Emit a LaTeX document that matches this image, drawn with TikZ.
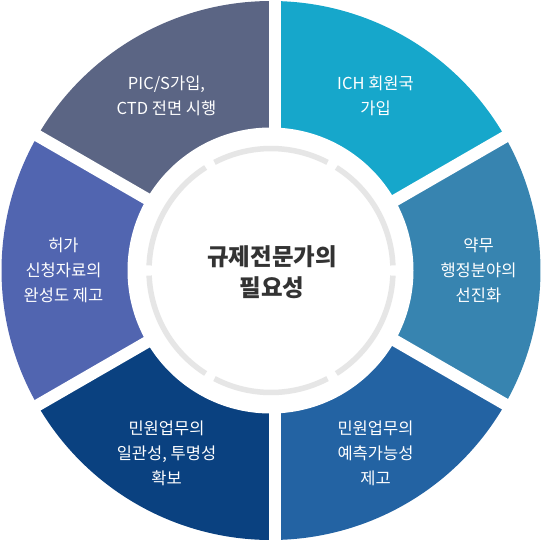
\documentclass[tikz,border=0pt]{standalone}
\usepackage{fontspec}
\setmainfont{Noto Sans CJK KR}
\definecolor{cPics}{HTML}{5B6584}
\definecolor{cIch}{HTML}{16A7CB}
\definecolor{cYak}{HTML}{3784B0}
\definecolor{cYe}{HTML}{2363A3}
\definecolor{cIl}{HTML}{0A4180}
\definecolor{cHeo}{HTML}{5165B0}
\definecolor{cRing}{HTML}{E6E6E6}
\definecolor{cCenter}{HTML}{333333}
\begin{document}
\begin{tikzpicture}[x=1pt,y=-1pt,
  segtext/.style={text=white,align=center,font=\fontsize{16.5}{25}\selectfont,inner sep=0pt},
  centertext/.style={text=cCenter,align=center,font=\fontsize{23.5}{31}\selectfont\bfseries,inner sep=0pt},
  gapline/.style={white,line width=12pt},
  ringarc/.style={cRing,line width=5.5pt}]
\useasboundingbox (0,0) rectangle (542,542);
\coordinate (O) at (271,270.5);
\coordinate (OR) at (273.5,270.5);
\def\R{269.5}
% sectors (visual angle theta -> tikz angle -theta)
\fill[cPics] (O) -- ++(-90:\R) arc[start angle=-90,end angle=-150,radius=\R] -- cycle;
\fill[cHeo] (O) -- ++(-150:\R) arc[start angle=-150,end angle=-210,radius=\R] -- cycle;
\fill[cIl] (O) -- ++(-210:\R) arc[start angle=-210,end angle=-270,radius=\R] -- cycle;
\fill[cYe] (O) -- ++(-270:\R) arc[start angle=-270,end angle=-330,radius=\R] -- cycle;
\fill[cYak] (O) -- ++(30:\R) arc[start angle=30,end angle=-30,radius=\R] -- cycle;
\fill[cIch] (O) -- ++(-30:\R) arc[start angle=-30,end angle=-90,radius=\R] -- cycle;
% gaps
\coordinate (gT) at (274.5,-5);
\coordinate (gB) at (274.5,547);
\draw[gapline] (gT) -- (gB);
\draw[gapline] (O) -- ++(-150:290);
\draw[gapline] (O) -- ++(-210:290);
\draw[gapline] (OR) -- ++(-30:290);
\draw[gapline] (OR) -- ++(30:290);
% inner disk
\fill[white] (270.5,270.5) circle[radius=143];
% gray ring in six arcs
\foreach \a in {0,60,120,180,240,300}{
  \draw[ringarc] (O) ++(-\a-2.4:122) arc[start angle=-\a-2.4,end angle=-\a-57.6,radius=122];
}
% texts
\node[centertext] (center) at (272,272) {규제전문가의\\필요성};
\node[segtext] (pics) at (166.5,95.7) {PIC/S가입,\\CTD 전면 시행};
\node[segtext] (ich) at (375.5,95.7) {ICH 회원국\\가입};
\node[segtext] (yak) at (478.5,270.3) {약무\\행정분야의\\선진화};
\node[segtext] (heo) at (63.5,270.3) {허가\\신청자료의\\완성도 제고};
\node[segtext] (il) at (166.5,453) {민원업무의\\일관성, 투명성\\확보};
\node[segtext] (ye) at (375.5,453) {민원업무의\\예측가능성\\제고};
\end{tikzpicture}
\end{document}
